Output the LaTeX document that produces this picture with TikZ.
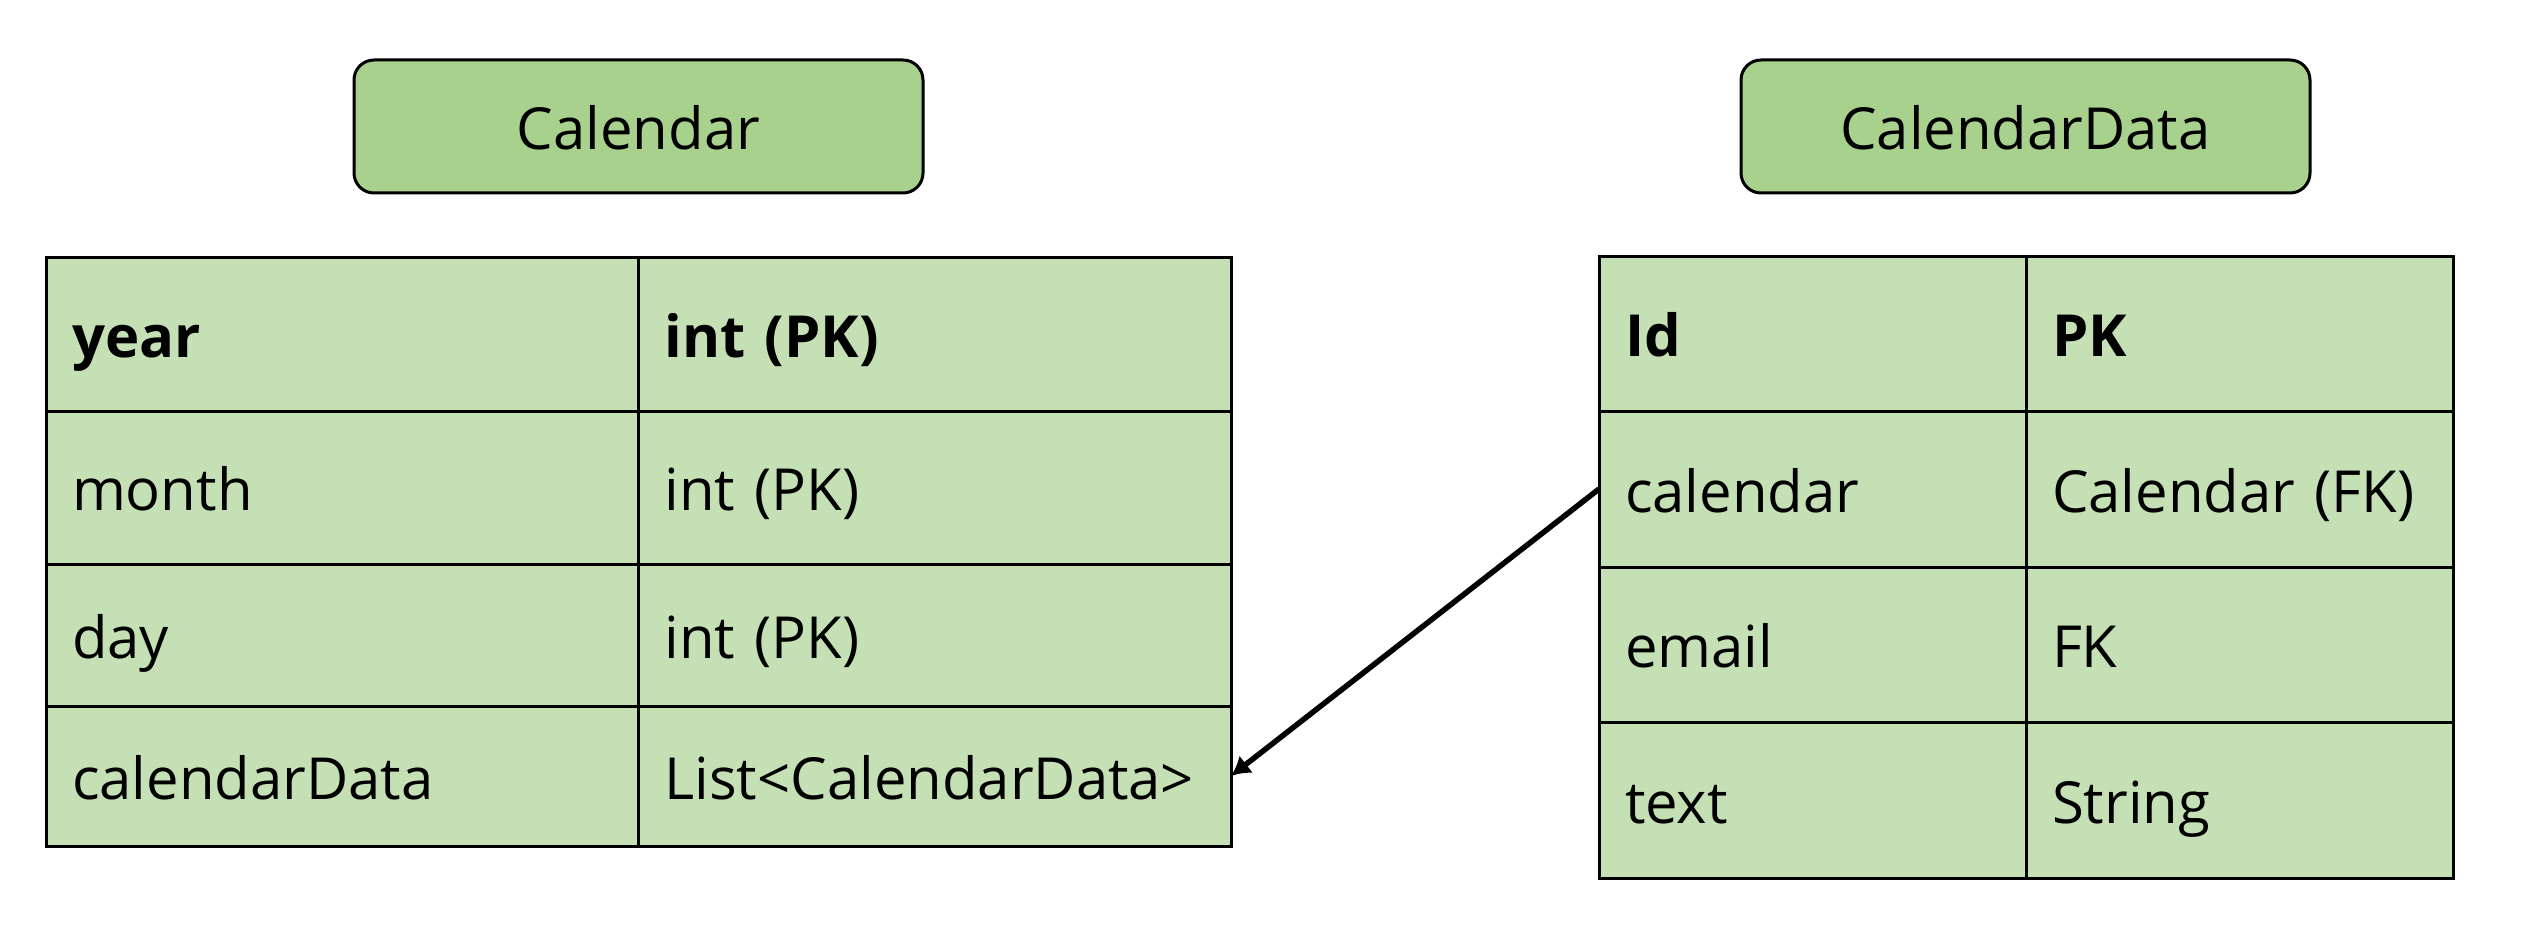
\documentclass[tikz,border=0pt]{standalone}
\usepackage{fontspec}
\setmainfont{Open Sans}
\usetikzlibrary{arrows.meta}
\definecolor{titlegreen}{HTML}{A9D18E}
\definecolor{cellgreen}{HTML}{C5E0B4}
\begin{document}
\begin{tikzpicture}[x=1pt,y=-1pt,
        every node/.style={font=\fontsize{58}{70}\selectfont},
        title/.style={draw, line width=3pt, rounded corners=20pt, fill=titlegreen,
            minimum width=569pt, minimum height=133pt, outer sep=0pt,
            text height=46pt, text depth=0pt},
        cell/.style={draw, line width=3pt, fill=cellgreen, anchor=north west,
            outer sep=0pt, inner xsep=26pt, align=left,
            text height=46pt, text depth=0pt},
        calcell/.style={cell, text width=540.5pt},
        datacell/.style={cell, text width=375pt}]
            \useasboundingbox (0,0) rectangle (2527,928);
            \node[title] at (638.5,126.5) (caltitle) {Calendar};
            \node[title] at (2025.5,126.5) (datatitle) {CalendarData};
            % Calendar table
            \node[calcell, minimum height=154pt] at (46,257) (year) {\textbf{year}};
            \node[calcell, minimum height=154pt] at (638.5,257) (yeartype) {\textbf{int (PK)}};
            \node[calcell, minimum height=153pt] at (46,411) (month) {month};
            \node[calcell, minimum height=153pt] at (638.5,411) (monthtype) {int (PK)};
            \node[calcell, minimum height=142pt] at (46,564) (day) {day};
            \node[calcell, minimum height=142pt] at (638.5,564) (daytype) {int (PK)};
            \node[calcell, minimum height=140pt] at (46,706) (caldata) {calendarData};
            \node[calcell, minimum height=140pt] at (638.5,706) (caldatatype) {List<CalendarData>};
            % CalendarData table
            \node[datacell, minimum height=155pt] at (1599,256) (dataid) {\textbf{Id}};
            \node[datacell, minimum height=155pt] at (2026,256) (dataidtype) {\textbf{PK}};
            \node[datacell, minimum height=156pt] at (1599,411) (datacal) {calendar};
            \node[datacell, minimum height=156pt] at (2026,411) (datacaltype) {Calendar (FK)};
            \node[datacell, minimum height=155pt] at (1599,567) (dataemail) {email};
            \node[datacell, minimum height=155pt] at (2026,567) (dataemailtype) {FK};
            \node[datacell, minimum height=156pt] at (1599,722) (datatext) {text};
            \node[datacell, minimum height=156pt] at (2026,722) (datatexttype) {String};
            \draw[-{Latex[length=19pt,width=22pt]}, line width=5.5pt] (datacal.west) -- (caldatatype.east);
        \end{tikzpicture}
\end{document}
